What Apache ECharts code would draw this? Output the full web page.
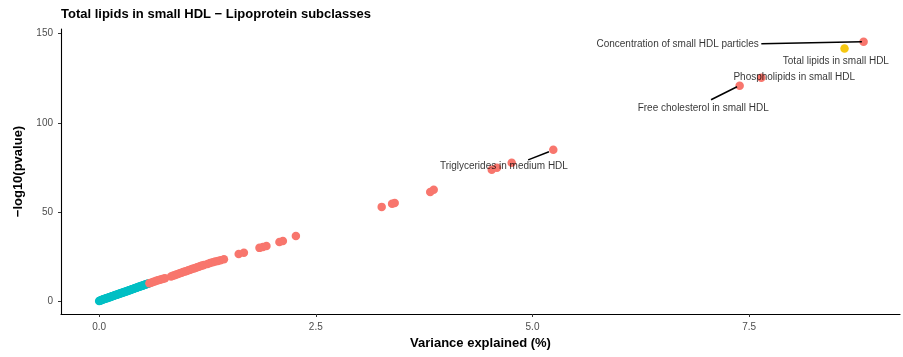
<!DOCTYPE html>
<html>
<head>
<meta charset="utf-8">
<script src="https://cdn.jsdelivr.net/npm/echarts@6/dist/echarts.min.js"></script>
<style>html,body{margin:0;padding:0;background:#fff}#c{width:903px;height:357px}</style>
</head>
<body>
<div id="c"></div>
<script>
// Non-significant points (teal)
const tealPoints = [
  [0.00,0.0],[0.01,0.2],[0.02,0.4],[0.03,0.6],[0.04,0.8],[0.05,1.0],[0.06,1.1],[0.07,1.3],
  [0.08,1.5],[0.09,1.6],[0.10,1.8],[0.11,2.0],[0.12,2.1],[0.13,2.3],[0.14,2.5],[0.15,2.7],
  [0.16,2.8],[0.17,3.0],[0.18,3.2],[0.19,3.3],[0.20,3.5],[0.21,3.7],[0.22,3.8],[0.23,4.0],
  [0.24,4.2],[0.25,4.3],[0.26,4.5],[0.27,4.7],[0.28,4.8],[0.29,5.0],[0.30,5.2],[0.31,5.3],
  [0.32,5.5],[0.33,5.7],[0.34,5.9],[0.35,6.0],[0.36,6.2],[0.37,6.4],[0.38,6.6],[0.39,6.7],
  [0.40,6.9],[0.41,7.1],[0.42,7.3],[0.43,7.4],[0.44,7.6],[0.45,7.8],[0.46,8.0],[0.47,8.1],
  [0.48,8.3],[0.49,8.5],[0.50,8.6],[0.51,8.8],[0.52,9.0],[0.53,9.2],[0.54,9.3],[0.55,9.5],
  [0.56,9.7],[0.57,9.8]
];
// Significant points (salmon)
const redPoints = [
  [0.58,10.0],[0.60,10.3],[0.62,10.6],[0.64,11.0],[0.66,11.3],[0.68,11.6],[0.70,11.9],
  [0.72,12.2],[0.74,12.5],[0.76,12.8],
  [0.83,13.8],[0.85,14.1],[0.87,14.5],[0.89,14.8],[0.91,15.1],[0.93,15.5],[0.95,15.8],
  [0.97,16.2],[0.99,16.5],[1.01,16.8],[1.03,17.2],[1.05,17.5],[1.07,17.9],[1.09,18.2],
  [1.11,18.5],[1.13,18.9],[1.15,19.2],[1.17,19.6],[1.19,19.9],[1.21,20.2],
  [1.25,20.8],[1.28,21.3],[1.31,21.7],[1.34,22.1],[1.37,22.5],[1.40,22.9],[1.44,23.4],
  [1.61,26.4],[1.67,27.0],[1.85,29.8],[1.89,30.3],[1.93,30.9],[2.08,33.1],[2.12,33.7],[2.27,36.5],
  [3.26,52.8],[3.38,54.5],[3.41,55.0],[3.82,61.2],[3.86,62.4],
  [4.53,73.6],[4.59,74.7],[4.76,77.5],[5.24,84.8],
  [7.39,120.8],[7.64,125.3],[8.82,145.5]
];
// Trait of interest (gold)
const focusPoints = [[8.60,141.6]];

// Labels: text, anchor x, anchor y, alignment
const labelTexts = ["Concentration of small HDL particles","Total lipids in small HDL","Phospholipids in small HDL","Free cholesterol in small HDL","Triglycerides in medium HDL"];
const labelX = [7.61, 8.50, 8.02, 6.97, 4.67];
const labelY = [143.8, 134.3, 125.8, 108.4, 75.8];
const labelAlign = ["right","center","center","center","center"];
// Connector segments [x1,y1,x2,y2]
const segments = [
  [7.64,144.3,8.80,145.5],
  [7.06,112.9,7.36,120.2],
  [4.95,79.2,5.19,83.7]
];

const xTicks = [0, 2.5, 5, 7.5];
const yTicks = [0, 50, 100, 150];

const FONT = "Liberation Sans, Arial, Helvetica, sans-serif";
const chart = echarts.init(document.getElementById('c'), null, {renderer:'canvas'});
chart.setOption({
  animation:false,
  backgroundColor:'#fff',
  title:{text:'Total lipids in small HDL \u2212 Lipoprotein subclasses', left:56, top:3,
    textStyle:{fontFamily:FONT,fontSize:13,fontWeight:'bold',color:'#000'}},
  grid:{left:61,right:3,top:29,bottom:43,containLabel:false},
  xAxis:{type:'value',min:-0.44,max:9.24,
    name:'Variance explained (%)',nameLocation:'middle',nameGap:22,
    nameTextStyle:{fontFamily:FONT,fontSize:13,fontWeight:'bold',color:'#000'},
    axisLine:{show:true,onZero:false,lineStyle:{color:'#000',width:1.1}},
    axisTick:{show:true,length:3,lineStyle:{color:'#333'},customValues:xTicks},
    axisLabel:{customValues:xTicks,margin:8,fontFamily:FONT,fontSize:10,color:'#4D4D4D',
      formatter:v=>v.toFixed(1)},
    splitLine:{show:false}},
  yAxis:{type:'value',min:-7.3,max:152.6,
    name:'\u2212log10(pvalue)',nameLocation:'middle',nameGap:29,
    nameTextStyle:{fontFamily:FONT,fontSize:13,fontWeight:'bold',color:'#000'},
    axisLine:{show:true,onZero:false,lineStyle:{color:'#000',width:1.1}},
    axisTick:{show:true,length:3,lineStyle:{color:'#333'},customValues:yTicks},
    axisLabel:{customValues:yTicks,margin:8,fontFamily:FONT,fontSize:10,color:'#4D4D4D'},
    splitLine:{show:false}},
  series:[
    {type:'scatter',data:tealPoints,symbolSize:8.5,itemStyle:{color:'#00BFC4',opacity:1},z:2},
    {type:'scatter',data:redPoints,symbolSize:8.5,itemStyle:{color:'#F8766D',opacity:1},z:3},
    {type:'scatter',data:focusPoints,symbolSize:8.5,itemStyle:{color:'#F5C710',opacity:1},z:4},
    {type:'scatter',symbolSize:0,silent:true,z:6,
      data:labelTexts.map((t,i)=>({value:[labelX[i],labelY[i]],name:t,
        label:{show:true,position:'inside',formatter:t,align:labelAlign[i],verticalAlign:'middle',
          fontFamily:FONT,fontSize:10,color:'#000'}}))},
    {type:'scatter',symbolSize:0,silent:true,z:5,data:[],
      markLine:{silent:true,symbol:['none','none'],animation:false,label:{show:false},
        lineStyle:{color:'#000',width:1.5,type:'solid'},
        data:segments.map(s=>[{coord:[s[0],s[1]]},{coord:[s[2],s[3]]}])}}
  ]
});
</script>
</body>
</html>
